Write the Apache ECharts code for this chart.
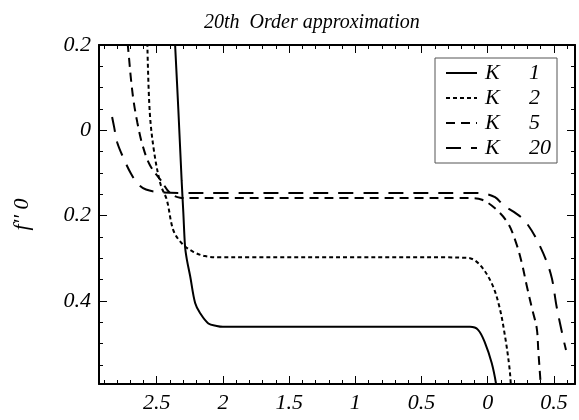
<!DOCTYPE html>
<html>
<head>
<meta charset="utf-8">
<script src="https://cdn.jsdelivr.net/npm/echarts@6/dist/echarts.min.js"></script>
<style>
html, body { margin: 0; padding: 0; background: #fff; }
#chart { width: 579px; height: 420px; }
</style>
</head>
<body>
<div id="chart"></div>
<script>
// h-curves: [h, f''(0)]
var k1 = [[-2.362, 0.205], [-2.337, 0.05], [-2.312, -0.117], [-2.299, -0.194], [-2.286, -0.273],
    [-2.272, -0.304], [-2.247, -0.343], [-2.21, -0.405], [-2.172, -0.429], [-2.11, -0.453],
    [-2.047, -0.459], [-2.0, -0.461], [-1.8, -0.461], [-1.5, -0.461], [-0.5, -0.461],
    [-0.25, -0.461], [-0.134, -0.461], [-0.073, -0.468], [-0.02, -0.499], [0.03, -0.546], [0.063, -0.595], [0.07, -0.62]];
var k2 = [[-2.571, 0.205], [-2.553, 0.044], [-2.52, -0.05], [-2.47, -0.128], [-2.424, -0.163],
    [-2.375, -0.234], [-2.311, -0.265], [-2.224, -0.285], [-2.135, -0.295], [-2.022, -0.298],
    [-1.8, -0.298], [-1.0, -0.298], [-0.3, -0.298], [-0.184, -0.299], [-0.134, -0.3], [-0.058, -0.316], [0.03, -0.359],
    [0.088, -0.414], [0.131, -0.484], [0.163, -0.554], [0.174, -0.595], [0.176, -0.62]];
var k5 = [[-2.72, 0.205], [-2.709, 0.169], [-2.694, 0.118], [-2.674, 0.067], [-2.647, 0.019],
    [-2.609, -0.033], [-2.553, -0.081], [-2.465, -0.119], [-2.4, -0.147], [-2.324, -0.158],
    [-2.21, -0.159], [-2.0, -0.159], [-1.0, -0.159], [-0.25, -0.159], [-0.134, -0.159], [-0.043, -0.163], [0.055, -0.183],
    [0.153, -0.218], [0.214, -0.264], [0.257, -0.311], [0.295, -0.365], [0.335, -0.419],
    [0.37, -0.464], [0.382, -0.517], [0.395, -0.574], [0.403, -0.609]];
var k20 = [[-2.837, 0.031], [-2.822, 0.008], [-2.799, -0.028], [-2.747, -0.068], [-2.694, -0.102],
    [-2.641, -0.126], [-2.581, -0.139], [-2.475, -0.145], [-2.286, -0.147], [-2.0, -0.147], [-1.0, -0.147],
    [-0.2, -0.147], [-0.1, -0.147], [-0.035, -0.148], [0.055, -0.157], [0.123, -0.177], [0.2, -0.192], [0.287, -0.215],
    [0.387, -0.267], [0.476, -0.337], [0.521, -0.415], [0.571, -0.489], [0.591, -0.515]];

var seriesNames = ['K 1', 'K 2', 'K 5', 'K 20'];
var xTicks = [-2.5, -2, -1.5, -1, -0.5, 0, 0.5];
var yTicks = [0.2, 0, -0.2, -0.4];

var xMin = -2.936, xMax = 0.659;
var yMin = -0.595, yMax = 0.2;

var xMinor = [];
for (var i = -29; i <= 6; i++) xMinor.push(i / 10);
var yMinor = [];
for (var j = -11; j <= 4; j++) yMinor.push(j / 20);

var font = 'Liberation Serif';
var black = '#000';

function absLabel(v) {
    return String(Math.abs(Math.round(v * 100) / 100));
}

function frameAxis(pos, isMinor, withLabel, ticks, min, max, extra) {
    var ax = {
        type: 'value',
        position: pos,
        min: min,
        max: max,
        splitLine: { show: false },
        axisLine: { show: !isMinor, onZero: false, lineStyle: { color: black, width: 2 } },
        axisTick: {
            show: true, inside: true, length: isMinor ? 4 : 8,
            customValues: ticks,
            lineStyle: { color: black, width: 1 }
        },
        axisLabel: {
            show: withLabel,
            customValues: ticks,
            formatter: absLabel,
            fontFamily: font, fontStyle: 'italic', fontSize: 22, color: black, margin: 8
        }
    };
    for (var key in extra) ax[key] = extra[key];
    return ax;
}

var chart = echarts.init(document.getElementById('chart'));

var option = {
    animation: false,
    backgroundColor: '#fff',
    title: {
        text: '20th  Order approximation',
        left: 199,
        top: 8,
        textStyle: { fontFamily: font, fontStyle: 'italic', fontWeight: 'normal', fontSize: 20, color: black }
    },
    grid: { left: 99, right: 4, top: 45, bottom: 36 },
    legend: {
        orient: 'vertical',
        left: 435,
        top: 58,
        data: seriesNames,
        itemWidth: 31,
        itemHeight: 14,
        itemGap: 3,
        padding: [4, 6, 4, 10],
        borderColor: '#555',
        borderWidth: 1,
        itemStyle: { opacity: 0 },
        formatter: function (name) {
            var p = name.split(' ');
            return '{k|' + p[0] + '}{n|' + p[1] + '}';
        },
        textStyle: {
            rich: {
                k: { fontFamily: font, fontStyle: 'italic', fontSize: 22, color: black, width: 44, padding: [0, 0, 0, 3] },
                n: { fontFamily: font, fontStyle: 'italic', fontSize: 22, color: black, width: 24 }
            }
        }
    },
    xAxis: [
        frameAxis('bottom', false, true, xTicks, xMin, xMax, {}),
        frameAxis('bottom', true, false, xMinor, xMin, xMax, {}),
        frameAxis('top', false, false, xTicks, xMin, xMax, {}),
        frameAxis('top', true, false, xMinor, xMin, xMax, {})
    ],
    yAxis: [
        frameAxis('left', false, true, yTicks, yMin, yMax, {
            name: "f'' 0",
            nameLocation: 'middle',
            nameRotate: 90,
            nameGap: 66,
            nameTextStyle: { fontFamily: font, fontStyle: 'italic', fontSize: 22, color: black }
        }),
        frameAxis('left', true, false, yMinor, yMin, yMax, {}),
        frameAxis('right', false, false, yTicks, yMin, yMax, {}),
        frameAxis('right', true, false, yMinor, yMin, yMax, {})
    ],
    series: [
        { name: seriesNames[0], data: k1, lineStyle: { type: 'solid', width: 2 } },
        { name: seriesNames[1], data: k2, lineStyle: { type: [4, 3], width: 2 } },
        { name: seriesNames[2], data: k5, lineStyle: { type: [9, 6], width: 2 } },
        { name: seriesNames[3], data: k20, lineStyle: { type: [15, 10], width: 2 } }
    ].map(function (s) {
        s.type = 'line';
        s.symbol = 'none';
        s.smooth = 0.35;
        s.clip = true;
        s.color = black;
        s.lineStyle.color = black;
        return s;
    })
};

chart.setOption(option);
</script>
</body>
</html>
